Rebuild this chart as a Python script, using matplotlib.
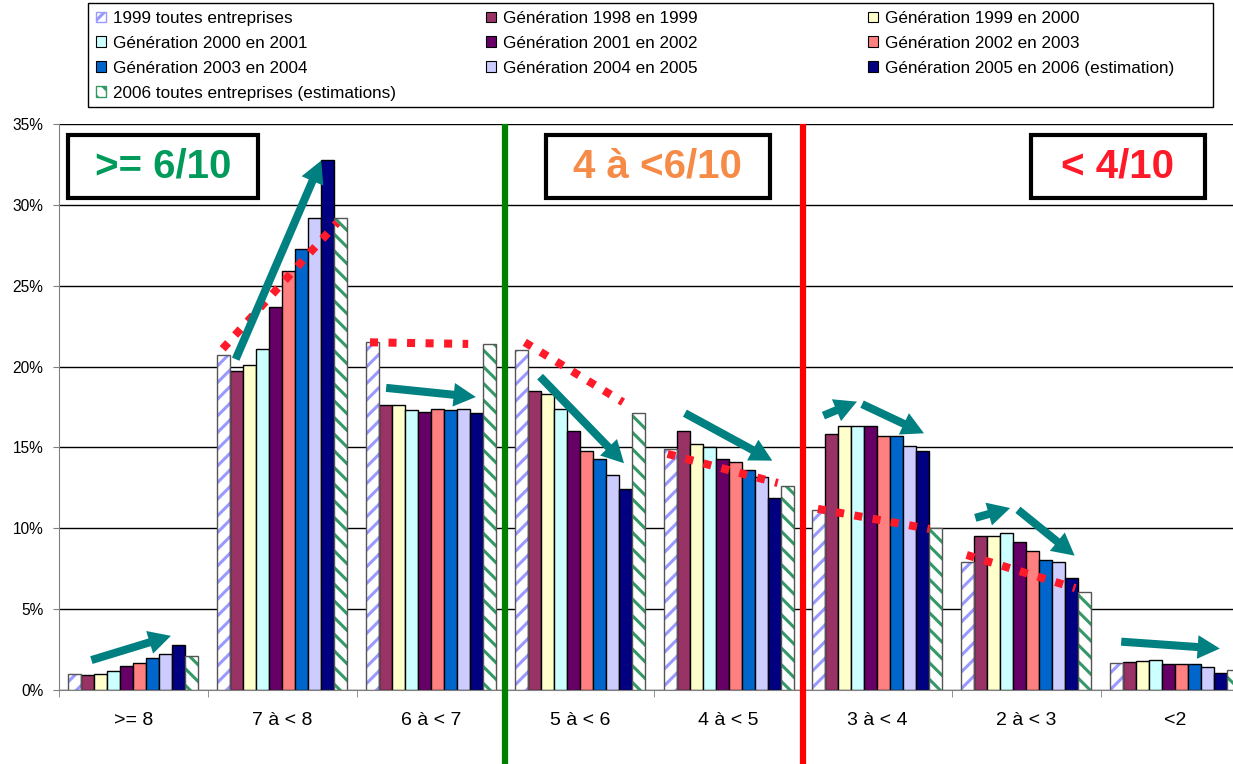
#!/usr/bin/env python3

import matplotlib
matplotlib.use("Agg")
import matplotlib.pyplot as plt
import numpy as np
from matplotlib.patches import Patch, Rectangle, FancyArrowPatch

# ─── Données ───────────────────────────────────────────────────────────────────
CATEGORIES = [">= 8", "7 à < 8", "6 à < 7", "5 à < 6", "4 à < 5", "3 à < 4", "2 à < 3", "<2"]

SERIES = [
    "1999 toutes entreprises",
    "Génération 1998 en 1999",
    "Génération 1999 en 2000",
    "Génération 2000 en 2001",
    "Génération 2001 en 2002",
    "Génération 2002 en 2003",
    "Génération 2003 en 2004",
    "Génération 2004 en 2005",
    "Génération 2005 en 2006 (estimation)",
    "2006 toutes entreprises (estimations)",
]

# une liste par série, valeurs en % pour chaque tranche de note
ALL_1999 = [1.0, 20.7, 21.5, 21.0, 14.9, 11.1, 7.9, 1.67]
GEN_1998 = [0.9, 19.7, 17.6, 18.5, 16.0, 15.8, 9.5, 1.73]
GEN_1999 = [1.0, 20.1, 17.6, 18.3, 15.2, 16.3, 9.55, 1.79]
GEN_2000 = [1.2, 21.1, 17.3, 17.4, 15.0, 16.3, 9.7, 1.87]
GEN_2001 = [1.5, 23.7, 17.2, 16.0, 14.3, 16.3, 9.15, 1.58]
GEN_2002 = [1.65, 25.9, 17.4, 14.8, 14.1, 15.7, 8.6, 1.58]
GEN_2003 = [2.0, 27.3, 17.3, 14.3, 13.6, 15.7, 8.05, 1.58]
GEN_2004 = [2.2, 29.2, 17.4, 13.3, 13.2, 15.1, 7.9, 1.44]
GEN_2005 = [2.8, 32.8, 17.1, 12.4, 11.9, 14.8, 6.9, 1.03]
ALL_2006 = [2.1, 29.2, 21.4, 17.1, 12.6, 10.0, 6.05, 1.23]

VALUES = [ALL_1999, GEN_1998, GEN_1999, GEN_2000, GEN_2001,
          GEN_2002, GEN_2003, GEN_2004, GEN_2005, ALL_2006]

COLORS = ["white", "#993366", "#FFFFCC", "#CCFFFF", "#660066",
          "#FF8080", "#0066CC", "#CCCCFF", "#000080", "white"]
HATCHES = {0: ("//", "#9999FF"), 9: ("\\\\", "#339966")}

# ─── Annotations (flèches, pointillés, encadrés) en coordonnées des données ───
ARROWS = [
    ((-0.30, 1.8), (0.27, 3.4)),
    ((0.68, 20.3), (1.27, 32.9)),
    ((1.68, 18.7), (2.32, 18.1)),
    ((2.72, 19.5), (3.31, 13.9)),
    ((3.69, 17.2), (4.31, 14.1)),
    ((4.62, 16.9), (4.88, 17.9)),
    ((4.88, 17.75), (5.33, 15.8)),
    ((5.64, 10.6), (5.91, 11.3)),
    ((5.93, 11.25), (6.34, 8.2)),
    ((6.62, 3.0), (7.32, 2.55)),
]
DOTTED = [
    ((0.60, 21.1), (1.37, 28.9)),
    ((1.59, 21.5), (2.25, 21.4)),
    ((2.63, 21.5), (3.29, 17.8)),
    ((3.59, 14.6), (4.33, 12.8)),
    ((4.60, 11.2), (5.35, 9.96)),
    ((5.60, 8.35), (6.33, 6.3)),
]
BOXES = [
    (">= 6/10", "#009A5B", -0.44, 0.84),
    ("4 à <6/10", "#F68B47", 2.77, 4.28),
    ("< 4/10", "#FF1A2A", 6.03, 7.20),
]

plt.rcParams["font.family"] = ["Liberation Sans", "DejaVu Sans"]
plt.rcParams["hatch.linewidth"] = 2.2

W, H = 1233, 764
fig = plt.figure(figsize=(W / 100, H / 100), dpi=100)
# l'axe déborde à droite : la dernière barre est coupée comme dans l'original
ax = fig.add_axes([59 / W, 74 / H, 1190.4 / W, 566 / H])

n = len(VALUES)
bw = 0.0874
x = np.arange(len(CATEGORIES))

for j, vals in enumerate(VALUES):
    pos = x + (j - (n - 1) / 2) * bw
    if j in HATCHES:
        hatch, hcol = HATCHES[j]
        ax.bar(pos, vals, bw, color="white", edgecolor=hcol, hatch=hatch, linewidth=0, zorder=2)
        ax.bar(pos, vals, bw, fill=False, edgecolor="#555555", linewidth=1.0, zorder=3)
    else:
        ax.bar(pos, vals, bw, color=COLORS[j], edgecolor="black", linewidth=1.0, zorder=2)

ax.set_xlim(-0.5, len(CATEGORIES) - 0.5)
ax.set_ylim(0, 35)
ax.set_yticks(np.arange(0, 36, 5))
ax.set_yticklabels([f"{v}%" for v in range(0, 36, 5)], fontsize=11.2)
ax.yaxis.grid(True, color="black", linewidth=1.0)
ax.set_axisbelow(True)

ax.set_xticks(x)
ax.set_xticklabels(CATEGORIES, fontsize=14)
ax.set_xticks(np.arange(-0.5, len(CATEGORIES), 1), minor=True)
ax.tick_params(axis="x", which="major", length=0, pad=15.5)
ax.tick_params(axis="x", which="minor", length=5, color="#808080", direction="out")
ax.tick_params(axis="y", length=4.3, color="#808080", pad=7)

for s in ["top", "right"]:
    ax.spines[s].set_visible(False)
ax.spines["left"].set_color("#808080")
ax.spines["bottom"].set_color("#808080")

# séparateurs verticaux
ax.plot([2.5, 2.5], [34.8, -5], color="#008000", linewidth=4.5, clip_on=False, zorder=6)
ax.plot([4.5, 4.5], [34.8, -5], color="#FF0000", linewidth=4.5, clip_on=False, zorder=6)

# pointillés rouges
for (x0, y0), (x1, y1) in DOTTED:
    ax.plot([x0, x1], [y0, y1], color="#FF1A2A", linewidth=5.8,
            dashes=(1, 1.3), dash_capstyle="butt", zorder=5)

# flèches bleu-vert
for (x0, y0), (x1, y1) in ARROWS:
    arr = FancyArrowPatch((x0, y0), (x1, y1),
                          arrowstyle="simple,head_length=1.6,head_width=1.7,tail_width=0.58",
                          mutation_scale=10, color="#008080", linewidth=0, zorder=7)
    ax.add_patch(arr)

# encadrés
for label, col, bx0, bx1 in BOXES:
    ax.add_patch(Rectangle((bx0, 30.45), bx1 - bx0, 3.85, facecolor="white",
                           edgecolor="black", linewidth=3, zorder=8))
    ax.text((bx0 + bx1) / 2, 32.35, label, color=col, fontsize=29, fontweight="bold",
            ha="center", va="center", zorder=9)

# ─── Légende (3 colonnes placées à la main, remplissage par lignes) ───────────
handles = []
for j, lab in enumerate(SERIES):
    if j in HATCHES:
        hatch, hcol = HATCHES[j]
        handles.append(Patch(facecolor="white", edgecolor=hcol, hatch=hatch, label=lab))
    else:
        handles.append(Patch(facecolor=COLORS[j], edgecolor="black", linewidth=0.8, label=lab))

col_x = [96, 486, 868]
for c in range(3):
    hs = handles[c::3]
    fig.legend(handles=hs, loc="upper left", bbox_to_anchor=(col_x[c] / W, 1 - 11 / H),
               frameon=False, fontsize=12.3, borderpad=0, borderaxespad=0,
               handlelength=0.6, handleheight=0.6, handletextpad=0.4, labelspacing=0.58)

fig.add_artist(Rectangle((88 / W, 1 - 107 / H), (1213 - 88) / W, 104 / H,
                         transform=fig.transFigure, fill=False, edgecolor="black", linewidth=1))

fig.savefig("out.png", dpi=100)
